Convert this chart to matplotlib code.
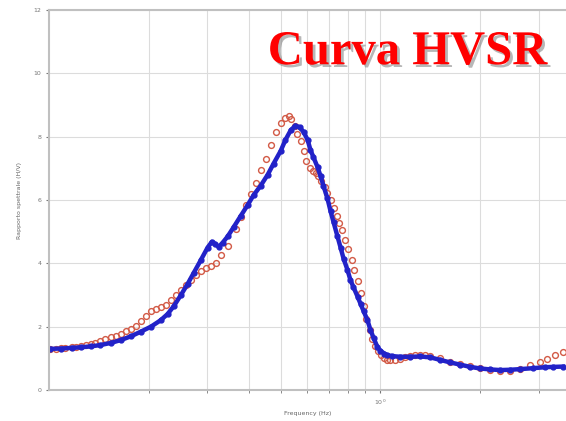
import matplotlib
matplotlib.use('Agg')
import matplotlib.pyplot as plt
import matplotlib.patheffects as pe
from matplotlib.ticker import FixedLocator, NullFormatter

# curva H/V - media (azul) y curva modelo (rojo)
freq_azul = [0.101, 0.109, 0.117, 0.125, 0.134, 0.143, 0.154, 0.165, 0.177, 0.189,
             0.203, 0.217, 0.228, 0.238, 0.250, 0.262, 0.273, 0.287, 0.301, 0.310,
             0.316, 0.325, 0.334, 0.346, 0.361, 0.379, 0.398, 0.414, 0.435, 0.457,
             0.476, 0.500, 0.517, 0.536, 0.554, 0.570, 0.586, 0.603, 0.615, 0.628,
             0.646, 0.660, 0.673, 0.692, 0.707, 0.722, 0.742, 0.758, 0.774, 0.795,
             0.812, 0.829, 0.853, 0.871, 0.889, 0.914, 0.933, 0.953, 0.979, 1.000,
             1.028, 1.050, 1.087, 1.149, 1.231, 1.320, 1.415, 1.516, 1.625, 1.742,
             1.867, 2.001, 2.145, 2.299, 2.464, 2.641, 2.889, 3.141, 3.320, 3.558]
hv_azul = [1.30, 1.31, 1.33, 1.35, 1.38, 1.42, 1.49, 1.58, 1.70, 1.84,
           2.00, 2.20, 2.40, 2.65, 3.00, 3.35, 3.69, 4.10, 4.50, 4.68,
           4.62, 4.52, 4.65, 4.85, 5.15, 5.50, 5.85, 6.15, 6.45, 6.80,
           7.15, 7.55, 7.90, 8.20, 8.35, 8.30, 8.15, 7.90, 7.58, 7.35,
           7.04, 6.75, 6.45, 6.05, 5.65, 5.30, 4.85, 4.50, 4.15, 3.80,
           3.47, 3.25, 2.95, 2.72, 2.50, 2.20, 1.90, 1.65, 1.36, 1.24,
           1.15, 1.10, 1.07, 1.05, 1.05, 1.06, 1.03, 0.95, 0.87, 0.80,
           0.73, 0.68, 0.65, 0.63, 0.64, 0.66, 0.69, 0.72, 0.73, 0.74]

freq_rojo = [0.101, 0.105, 0.109, 0.112, 0.117, 0.121, 0.125, 0.129, 0.134, 0.138,
             0.143, 0.148, 0.154, 0.159, 0.165, 0.171, 0.177, 0.183, 0.189, 0.196,
             0.203, 0.210, 0.217, 0.225, 0.233, 0.241, 0.250, 0.259, 0.268, 0.277,
             0.287, 0.297, 0.308, 0.318, 0.330, 0.346, 0.366, 0.379, 0.392, 0.406,
             0.420, 0.435, 0.450, 0.466, 0.483, 0.500, 0.517, 0.528, 0.539, 0.551,
             0.562, 0.574, 0.586, 0.598, 0.611, 0.624, 0.637, 0.650, 0.664, 0.678,
             0.692, 0.707, 0.722, 0.737, 0.752, 0.768, 0.784, 0.801, 0.818, 0.835,
             0.853, 0.871, 0.889, 0.907, 0.927, 0.946, 0.966, 0.986, 1.007, 1.028,
             1.050, 1.072, 1.110, 1.149, 1.189, 1.231, 1.275, 1.320, 1.366, 1.415,
             1.516, 1.625, 1.742, 1.867, 2.001, 2.145, 2.299, 2.464, 2.641, 2.830,
             3.033, 3.184, 3.366, 3.558]
hv_rojo = [1.30, 1.31, 1.32, 1.33, 1.35, 1.37, 1.40, 1.43, 1.46, 1.50,
           1.55, 1.60, 1.66, 1.72, 1.78, 1.85, 1.93, 2.03, 2.18, 2.35,
           2.48, 2.56, 2.62, 2.70, 2.85, 3.00, 3.15, 3.33, 3.48, 3.62,
           3.75, 3.85, 3.92, 4.02, 4.25, 4.55, 5.10, 5.45, 5.85, 6.20,
           6.55, 6.95, 7.30, 7.75, 8.15, 8.42, 8.60, 8.66, 8.55, 8.35,
           8.10, 7.85, 7.55, 7.22, 7.00, 6.92, 6.85, 6.75, 6.60, 6.42,
           6.22, 6.00, 5.75, 5.50, 5.28, 5.05, 4.75, 4.45, 4.12, 3.80,
           3.45, 3.05, 2.65, 2.25, 1.90, 1.62, 1.40, 1.22, 1.10, 1.01,
           0.96, 0.94, 0.95, 0.98, 1.03, 1.07, 1.10, 1.12, 1.10, 1.07,
           1.00, 0.90, 0.82, 0.75, 0.68, 0.62, 0.59, 0.60, 0.66, 0.78,
           0.90, 0.98, 1.10, 1.20]

y_ticks = [0, 2, 4, 6, 8, 10, 12]
x_minor = [0.2, 0.3, 0.4, 0.5, 0.6, 0.7, 0.8, 0.9, 2, 3]

fig = plt.figure(figsize=(5.66, 4.21), dpi=100)
ax = fig.add_axes([0.0866, 0.0736, 0.9134, 0.9026])

ax.plot(freq_rojo, hv_rojo, linestyle='none', marker='o', markersize=4.2,
        markerfacecolor='none', markeredgecolor='#d25a46', markeredgewidth=1.0)
ax.plot(freq_azul, hv_azul, color='#2222c8', linewidth=3.2, marker='o',
        markersize=3.5, markerfacecolor='#2222c8', markeredgecolor='#2222c8')

ax.set_xscale('log')
ax.set_xlim(0.1, 3.63)
ax.set_ylim(0, 12)
ax.set_yticks(y_ticks)
ax.xaxis.set_major_locator(FixedLocator([1]))
ax.set_xticklabels(['$10^0$'])
ax.xaxis.set_minor_locator(FixedLocator(x_minor))
ax.xaxis.set_minor_formatter(NullFormatter())

ax.grid(True, which='both', color='#dcdcdc', linewidth=0.8)
ax.set_axisbelow(True)
for side in ['left', 'bottom', 'top']:
    ax.spines[side].set_color('#c0c0c0')
    ax.spines[side].set_linewidth(1.5)
ax.spines['right'].set_visible(False)
ax.tick_params(which='both', labelsize=4.5, colors='#777777', length=2)

ax.set_xlabel('Frequency (Hz)', fontsize=4.5, color='#666666', labelpad=3)
ax.set_ylabel('Rapporto spettrale (H/V)', fontsize=4.5, color='#666666', labelpad=8)

fig.text(0.72, 0.876, 'Curva HVSR', ha='center', va='center', color='#ff0000',
         fontsize=35, fontweight='bold', family='Liberation Serif',
         path_effects=[pe.SimplePatchShadow(offset=(2, -2), shadow_rgbFace='#888888', alpha=0.6),
                       pe.Normal()])

fig.savefig('out.png', dpi=100)
